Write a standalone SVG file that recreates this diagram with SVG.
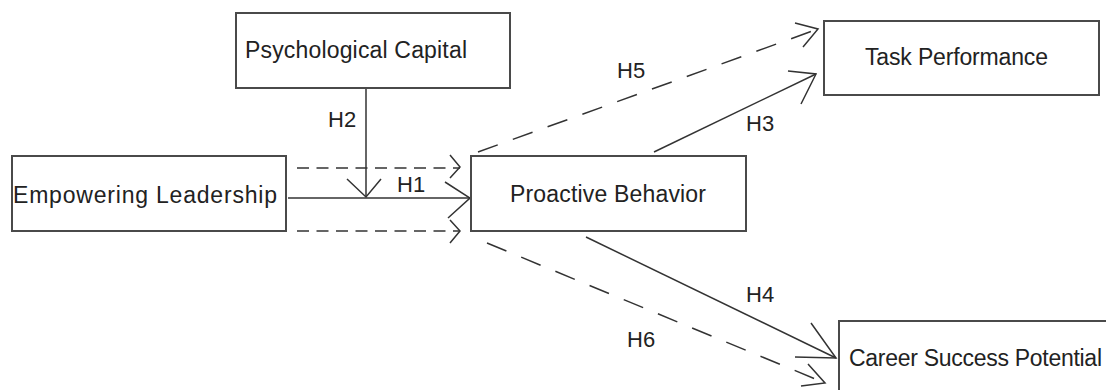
<svg xmlns="http://www.w3.org/2000/svg" width="1106" height="390" viewBox="0 0 1106 390">
<style>
.box{fill:#fff;stroke:#4a4a4a;stroke-width:2}
.lbl{font-family:"Liberation Sans",Arial,sans-serif;font-size:23px;fill:#222}
.h{font-family:"Liberation Sans",Arial,sans-serif;font-size:22px;fill:#222}
.ln{fill:none;stroke:#333;stroke-width:1.5}
.dh{stroke-dasharray:12 7.5}
.dd{stroke-dasharray:21 16}
.head{fill:none;stroke:#333;stroke-width:1.5;stroke-linejoin:miter}
</style>
<rect width="1106" height="390" fill="#fff"/>
<g id="connectors">
  <g id="c-h2"><line class="ln" x1="366" y1="88" x2="366" y2="197"/><polyline class="head" points="347,179 366,197 381,179"/></g>
  <g id="c-h1"><line class="ln" x1="288" y1="198" x2="470" y2="198"/><polyline class="head" points="445,182 470,198 448,218"/></g>
  <g id="c-dash-up"><line class="ln dh" x1="297" y1="168" x2="460" y2="168"/><polyline class="head" points="450,155 460,167 450,178"/></g>
  <g id="c-dash-low"><line class="ln dh" x1="297" y1="231" x2="460" y2="231"/><polyline class="head" points="450,220 460,231 450,243"/></g>
  <g id="c-h5"><line class="ln dd" x1="478" y1="152" x2="818" y2="29"/><polyline class="head" points="795,23 818,29 803,47"/></g>
  <g id="c-h3"><line class="ln" x1="654" y1="152" x2="816" y2="74"/><polyline class="head" points="788,71 816,74 801,104"/></g>
  <g id="c-h4"><line class="ln" x1="586" y1="237" x2="836" y2="358"/><polyline class="head" points="811,323 836,358 795,357"/></g>
  <g id="c-h6"><line class="ln dd" x1="487" y1="243" x2="825" y2="383"/><polyline class="head" points="808,364 825,383 801,386"/></g>
  <text class="h" x="328" y="127">H2</text>
  <text class="h" x="397" y="192">H1</text>
  <text class="h" x="617" y="78">H5</text>
  <text class="h" x="746" y="131">H3</text>
  <text class="h" x="746" y="302">H4</text>
  <text class="h" x="627" y="347">H6</text>
</g>
<g id="psych">
  <rect class="box" x="236" y="13" width="274" height="75"/>
  <text class="lbl" x="245" y="58" textLength="222">Psychological Capital</text>
</g>
<g id="empowering">
  <rect class="box" x="12" y="156" width="274" height="75"/>
  <text class="lbl" x="13" y="203" textLength="264">Empowering Leadership</text>
</g>
<g id="proactive">
  <rect class="box" x="471" y="156" width="275" height="75"/>
  <text class="lbl" x="510" y="202" textLength="196">Proactive Behavior</text>
</g>
<g id="task">
  <rect class="box" x="824" y="21" width="275" height="74"/>
  <text class="lbl" x="865" y="65" textLength="183">Task Performance</text>
</g>
<g id="career">
  <rect class="box" x="839" y="321" width="300" height="100"/>
  <text class="lbl" x="849" y="366" textLength="253">Career Success Potential</text>
</g>
</svg>
